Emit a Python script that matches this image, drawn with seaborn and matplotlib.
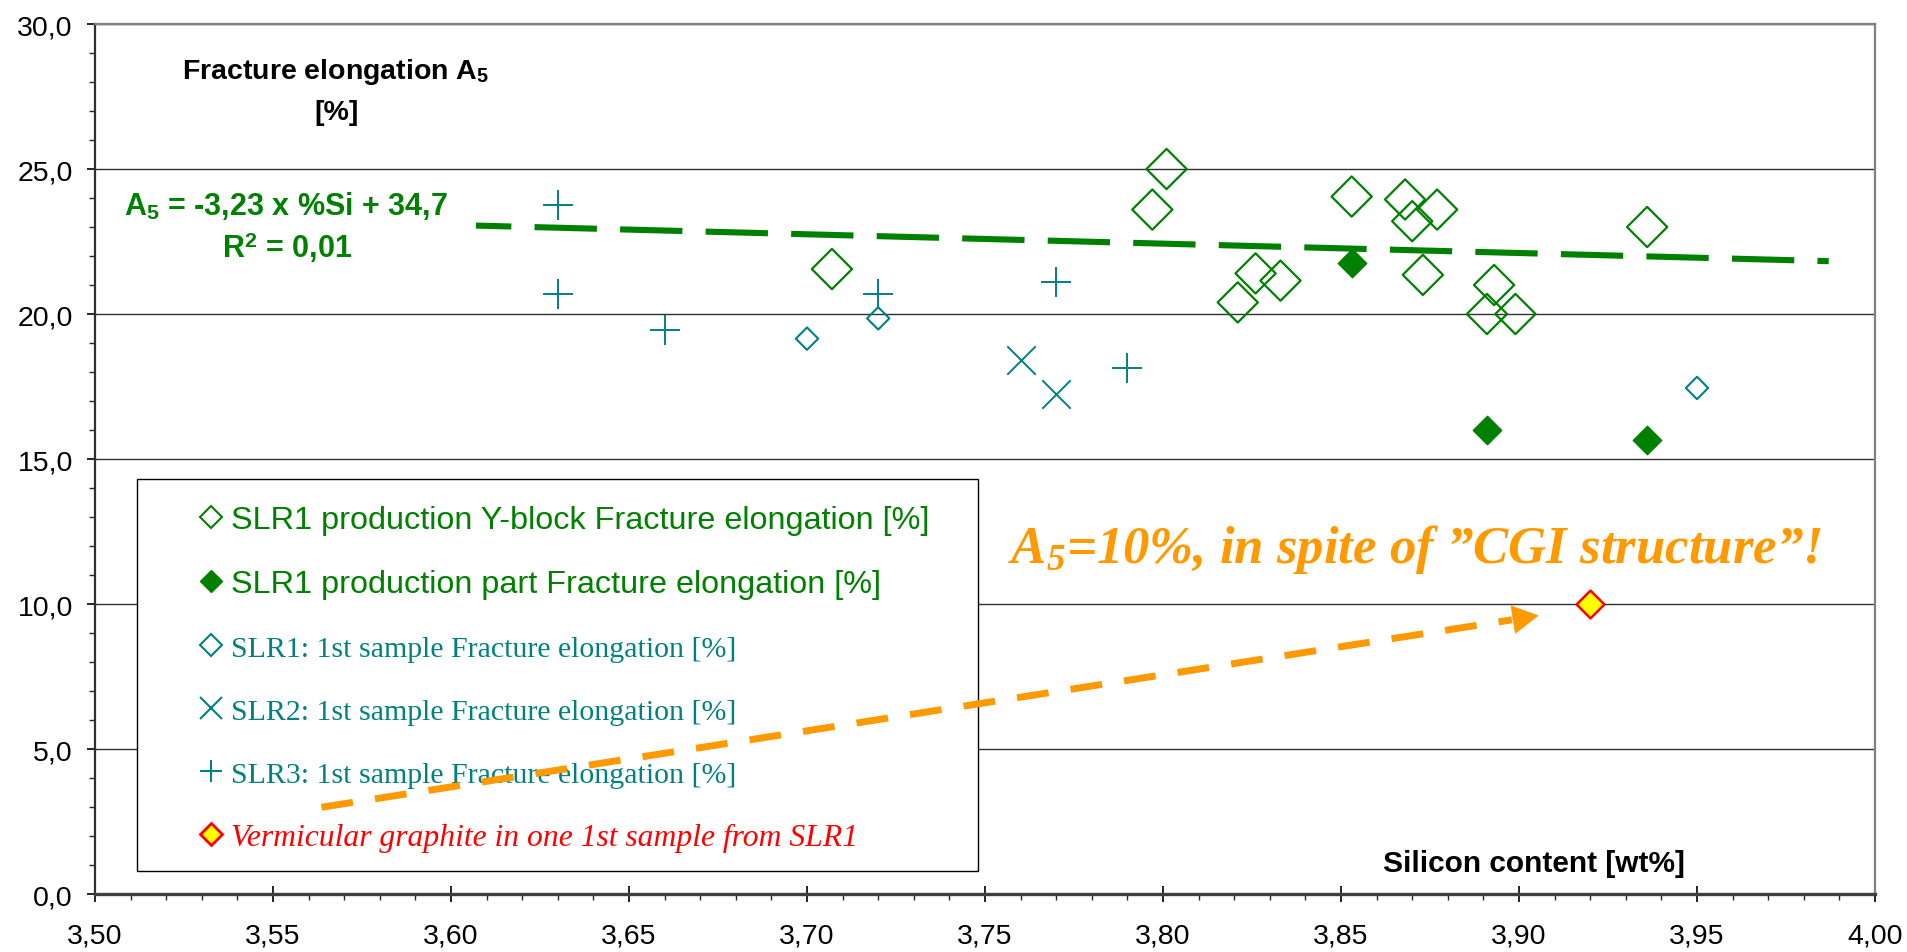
import numpy as np
import pandas as pd
import matplotlib
matplotlib.use("Agg")
import matplotlib.pyplot as plt
import seaborn as sns
from matplotlib.lines import Line2D
from matplotlib.patches import Rectangle, Shadow
from matplotlib.ticker import MultipleLocator, FuncFormatter

# ---------------- data ----------------
yblock_si = [3.707, 3.797, 3.801, 3.821, 3.826, 3.833, 3.853, 3.868, 3.870,
             3.877, 3.873, 3.893, 3.891, 3.899, 3.936]
yblock_a5 = [21.55, 23.6, 25.0, 20.4, 21.4, 21.15, 24.05, 23.95, 23.2,
             23.6, 21.35, 21.0, 20.0, 20.0, 23.0]

part_si = [3.853, 3.891, 3.936]
part_a5 = [21.75, 16.0, 15.65]

slr1_si = [3.700, 3.720, 3.950]
slr1_a5 = [19.15, 19.85, 17.45]

slr2_si = [3.760, 3.770]
slr2_a5 = [18.4, 17.25]

slr3_si = [3.630, 3.630, 3.660, 3.720, 3.770, 3.790]
slr3_a5 = [23.75, 20.7, 19.45, 20.7, 21.1, 18.15]

verm_si = [3.920]
verm_a5 = [10.0]

trend_slope = -3.23
trend_intercept = 34.7
trend_si = [3.607, 3.987]

arrow_start = (3.5636, 2.99)
arrow_tip = (3.9055, 9.60)

legend_labels = [
    "SLR1 production Y-block Fracture elongation [%]",
    "SLR1 production part Fracture elongation [%]",
    "SLR1: 1st sample Fracture elongation [%]",
    "SLR2: 1st sample Fracture elongation [%]",
    "SLR3: 1st sample Fracture elongation [%]",
    "Vermicular graphite in one 1st sample from SLR1",
]

green = "#008000"
teal = "#008080"
orange = "#FF9900"
red = "#FF0000"
yellow = "#FFFF00"

# ---------------- style ----------------
sns.set_theme(style="white")
plt.rcParams['font.family'] = ['Liberation Sans', 'DejaVu Sans']
plt.rcParams['mathtext.fontset'] = 'custom'
plt.rcParams['mathtext.rm'] = 'Liberation Serif:bold:italic'
plt.rcParams['mathtext.bf'] = 'Liberation Sans:bold'
plt.rcParams['mathtext.it'] = 'Liberation Serif:bold:italic'

fig = plt.figure(figsize=(19.07, 9.53), dpi=100)
ax = fig.add_axes([0.04982, 0.06086, 0.9334, 0.9129])

# ---------------- marks ----------------
sns.scatterplot(x=yblock_si, y=yblock_a5, marker='D', s=420, facecolor='none',
                edgecolor=green, linewidth=1.6, ax=ax, zorder=3, legend=False)
sns.scatterplot(x=part_si, y=part_a5, marker='D', s=210, color=green,
                edgecolor=green, linewidth=1.0, ax=ax, zorder=3, legend=False)
sns.scatterplot(x=slr1_si, y=slr1_a5, marker='D', s=130, facecolor='none',
                edgecolor=teal, linewidth=1.5, ax=ax, zorder=3, legend=False)
sns.scatterplot(x=slr2_si, y=slr2_a5, marker='x', s=420, color=teal,
                linewidth=1.4, ax=ax, zorder=3, legend=False)
sns.scatterplot(x=slr3_si, y=slr3_a5, marker='+', s=440, color=teal,
                linewidth=1.4, ax=ax, zorder=3, legend=False)
sns.scatterplot(x=verm_si, y=verm_a5, marker='D', s=200, color=yellow,
                edgecolor=red, linewidth=1.8, ax=ax, zorder=8, legend=False)

trend_a5 = [trend_slope * v + trend_intercept for v in trend_si]
ax.plot(trend_si, trend_a5, color=green, lw=4.4,
        ls=(4.4, (10.2, 3.8)), zorder=2.5, solid_capstyle='butt')

# orange dashed arrow
dx = arrow_tip[0] - arrow_start[0]
dy = arrow_tip[1] - arrow_start[1]
base = (arrow_tip[0] - 0.022 * dx, arrow_tip[1] - 0.022 * dy)
ax.plot([arrow_start[0], base[0]], [arrow_start[1], base[1]], color=orange,
        lw=5, ls=(0, (4.6, 3.2)), zorder=7, dash_capstyle='butt')
ax.annotate("", xy=arrow_tip, xytext=base,
            arrowprops=dict(arrowstyle="-|>,head_length=0.9,head_width=0.5",
                            color=orange, lw=0.5, shrinkA=0, shrinkB=0,
                            mutation_scale=20), zorder=7)

# ---------------- axes ----------------
ax.set_xlim(3.50, 4.00)
ax.set_ylim(0, 30)
ax.xaxis.set_major_locator(MultipleLocator(0.05))
ax.xaxis.set_minor_locator(MultipleLocator(0.01))
ax.yaxis.set_major_locator(MultipleLocator(5))
ax.yaxis.set_minor_locator(MultipleLocator(1))
ax.xaxis.set_major_formatter(FuncFormatter(lambda v, p: f"{v:.2f}".replace('.', ',')))
ax.yaxis.set_major_formatter(FuncFormatter(lambda v, p: f"{v:.1f}".replace('.', ',')))

ax.tick_params(axis='x', which='major', direction='inout', length=11.5, width=1.2,
               pad=15, labelsize=20.5, colors='black', bottom=True)
ax.tick_params(axis='x', which='minor', direction='out', length=4, width=1.0, bottom=True)
ax.tick_params(axis='y', which='major', direction='out', length=6, width=1.2,
               pad=10, labelsize=20.5, colors='black', left=True)
ax.tick_params(axis='y', which='minor', direction='out', length=4, width=1.0, left=True)

ax.set_axisbelow(True)
ax.yaxis.grid(True, which='major', color='#303030', lw=1.0)
ax.xaxis.grid(False)

for side in ['top', 'right']:
    ax.spines[side].set_color('#808080')
    ax.spines[side].set_linewidth(1.6)
ax.spines['left'].set_color('#303030')
ax.spines['left'].set_linewidth(1.6)
ax.spines['bottom'].set_color('#404040')
ax.spines['bottom'].set_linewidth(2.4)
ax.set_xlabel("")
ax.set_ylabel("")

# ---------------- texts ----------------
ax.text(3.5675, 28.14, r"Fracture elongation A$_{\mathbf{5}}$", ha='center', va='baseline',
        fontsize=20.5, fontweight='bold', color='black')
ax.text(3.5678, 26.72, "[%]", ha='center', va='baseline',
        fontsize=20.5, fontweight='bold', color='black')
ax.text(3.5537, 23.45, r"A$_{\mathbf{5}}$ = -3,23 x %Si + 34,7", ha='center', va='baseline',
        fontsize=22, fontweight='bold', color=green)
ax.text(3.554, 21.97, r"R$^{\mathbf{2}}$ = 0,01", ha='center', va='baseline',
        fontsize=22, fontweight='bold', color=green)
ax.text(3.9043, 0.79, "Silicon content [wt%]", ha='center', va='baseline',
        fontsize=21.5, fontweight='bold', color='black')
ax.text(3.8708, 11.45, r"A$_5$=10%, in spite of ”CGI structure”!",
        ha='center', va='baseline', fontsize=38, fontweight='bold', fontstyle='italic',
        family=['Liberation Serif', 'DejaVu Serif'], color=orange, zorder=7)

# ---------------- legend ----------------
rect = Rectangle((0.0236, 0.026), 0.4725, 0.451, transform=ax.transAxes,
                 facecolor='white', edgecolor='black', lw=1.0, zorder=5)
shadow = Shadow(rect, 0, -2.5, facecolor='#808080', edgecolor='none', alpha=1.0)
shadow.set_zorder(4.9)
ax.add_patch(shadow)
ax.add_patch(rect)

handles = [
    Line2D([], [], marker='D', ls='none', mfc='none', mec=green, mew=1.5, ms=11.5),
    Line2D([], [], marker='D', ls='none', mfc=green, mec=green, mew=1.0, ms=11.5),
    Line2D([], [], marker='D', ls='none', mfc='none', mec=teal, mew=1.5, ms=11.5),
    Line2D([], [], marker='x', ls='none', color=teal, mew=1.5, ms=16),
    Line2D([], [], marker='+', ls='none', color=teal, mew=1.5, ms=16),
    Line2D([], [], marker='D', ls='none', mfc=yellow, mec=red, mew=2.0, ms=11.5),
]
leg = ax.legend(handles, legend_labels, loc='upper left', bbox_to_anchor=(0.0584, 0.447),
                frameon=False, borderpad=0, borderaxespad=0, handlelength=0.75,
                handletextpad=0.25, labelspacing=1.06,
                prop={'family': 'Liberation Sans', 'size': 23.3})
leg.set_zorder(6)
txts = leg.get_texts()
txt_colors = [green, green, teal, teal, teal, red]
for i, t in enumerate(txts):
    t.set_color(txt_colors[i])
    if i in (2, 3, 4):
        t.set_fontfamily(['Liberation Serif', 'DejaVu Serif'])
        t.set_fontsize(21.5)
    if i == 5:
        t.set_fontfamily(['Liberation Serif', 'DejaVu Serif'])
        t.set_fontstyle('italic')
        t.set_fontsize(22.8)

fig.savefig("out.png", dpi=100)
